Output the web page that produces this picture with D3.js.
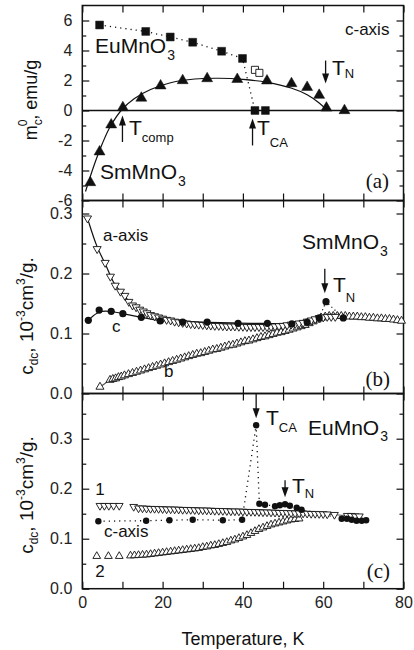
<!DOCTYPE html>
<html>
<head>
<meta charset="utf-8">
<script src="https://cdn.jsdelivr.net/npm/d3@7"></script>
<style>
  body { margin: 0; background: #fff; }
  svg { display: block; font-family: "Liberation Sans", Arial, sans-serif; }
</style>
</head>
<body>
<script>
// ---- panel (a): remanent moment along c, [T (K), m (emu/g)]
const euSquares = [[4.3, 5.7], [15.8, 5.27], [21.9, 4.9], [27.5, 4.55], [34.7, 3.95], [39.9, 3.47], [43.0, 0], [45.6, 0]];
const euOpen = [[43.0, 2.71], [44.1, 2.51]];
const smTriangles = [[2.0, -4.8], [4.3, -2.75], [7.2, -0.95], [10.1, 0.2], [14.7, 0.83], [19.5, 1.65], [25.0, 2.0],
  [31.1, 2.13], [38.6, 2.08], [46.0, 1.98], [52.1, 1.8], [56.0, 1.55], [59.0, 1.02], [60.8, 0.17], [65.3, 0.0]];
const smFit = [[0.8, -5.4], [3, -3.6], [5, -2.2], [7, -1.05], [10, 0.1], [13, 0.8], [17, 1.4], [22, 1.85], [28, 2.1],
  [34, 2.15], [40, 2.07], [46, 1.88], [52, 1.5], [56, 1.05], [59, 0.5], [61, 0.0]];

// ---- panel (b): SmMnO3 susceptibility, [T (K), chi (1e-3 cm3/g)]
const smA = [[1.3, .292], [3.7, .241], [5.7, .218], [7.0, .195], [8.2, .180], [9.5, .170], [10.6, .163], [11.6, .153],
  [12.5, .147], [13.4, .144], [14.3, .140], [15.2, .137], [16.1, .134], [17.0, .131], [18.0, .129], [19.0, .127],
  [20.0, .125], [21.0, .123], [22.0, .122], [23.0, .120], [24.0, .119], [25.0, .118], [26.0, .117], [27.0, .116],
  [28.0, .1155], [29, .115], [30, .1145], [31, .114], [32, .1135], [33, .113], [34, .113], [35, .1125], [36, .112],
  [37, .112], [38, .112], [39, .1115], [40, .1115], [41, .111], [42, .111], [43, .111], [44, .111], [45, .111],
  [46, .111], [47, .1115], [48, .112], [49, .1125], [50, .113], [51, .114], [52, .115], [53, .116], [54, .117],
  [55, .118], [56, .120], [57, .122], [58, .124], [59, .126], [60, .127], [61, .128], [62, .128], [63, .128]];
const smB = [[4.4, .011], [6.9, .0225], [7.6, .024], [8.3, .025], [9.0, .027], [9.7, .028], [10.5, .030], [11.5, .032],
  [12.5, .034], [13.5, .036], [14.5, .038], [15.5, .040], [16.5, .042], [17.5, .044], [18.5, .046], [19.5, .048],
  [20.5, .050], [21.5, .052], [22.5, .054], [23.5, .056], [24.5, .058], [25.5, .060], [26.5, .062], [27.5, .064],
  [28.5, .066], [29.5, .067], [30.5, .069], [31.5, .071], [32.5, .073], [33.5, .074], [34.5, .076], [35.5, .078],
  [36.5, .080], [37.5, .081], [38.5, .083], [39.5, .085], [40.5, .087], [41.5, .088], [42.5, .090], [43.5, .092],
  [44.5, .094], [45.5, .095], [46.5, .097], [47.5, .099], [48.5, .101], [49.5, .102], [50.5, .104], [51.5, .106],
  [52.5, .108], [53.5, .110], [54.5, .112], [55.5, .114], [56.5, .117], [57.5, .120], [58.5, .123], [59.5, .126],
  [60.5, .128], [61.5, .129], [62.5, .129], [63.5, .129], [64.5, .129], [65.5, .129], [66.5, .128], [67.5, .128],
  [68.5, .128], [69.5, .127], [70.5, .127], [71.5, .126], [72.5, .126], [73.5, .125], [74.5, .125], [75.5, .124],
  [76.5, .124], [77.5, .123], [78.5, .122], [79.5, .121]];
const smC = [[1.5, .122], [4.2, .139], [7.2, .137], [10.1, .133], [14.7, .127], [19.4, .121], [25.0, .119], [31.1, .119],
  [38.8, .117], [46.1, .117], [52.2, .116], [56.0, .119], [59.0, .126], [60.7, .153], [65.0, .126]];

// ---- panel (c): EuMnO3 susceptibility
const eu1 = [[4.4, .166], [5.5, .166], [6.6, .166], [7.8, .166], [9.2, .166], [12.8, .164],
  [14, .161], [15, .161], [16, .1605], [17, .160], [18, .160], [19, .1598], [20, .1595], [21, .159], [22, .159],
  [23, .1588], [24, .1585], [25, .158], [26, .158], [27, .1578], [28, .1575], [29, .157], [30, .157], [31, .1568],
  [32, .1565], [33, .156], [34, .156], [35, .1558], [36, .1555], [37, .155], [38, .155], [39, .1548], [40, .1545],
  [41, .154], [42, .154], [43, .1538], [44, .1535], [45, .153], [46, .153], [47, .1527], [48, .1524], [49, .152],
  [50, .152], [51, .1517], [52, .1514], [53, .151], [54, .151], [55, .1507], [56, .1504], [57, .150], [58, .150],
  [59, .1497], [60, .1494], [61, .149], [62.8, .148], [66, .146], [67, .146], [68, .145], [69, .145]];
const eu2 = [[3.6, .065], [6.5, .065], [9.2, .065], [12, .066], [13, .0665], [14, .067], [15, .0675], [16, .068],
  [17, .069], [18, .070], [19, .071], [20, .072], [21, .073], [22, .074], [23, .075], [24, .076], [25, .077],
  [26, .078], [27, .079], [28, .080], [29, .081], [30, .083], [31, .084], [32, .086], [33, .087], [34, .089],
  [35, .091], [36, .093], [37, .096], [38, .098], [39, .101], [40, .104], [41, .107], [42, .111], [43, .115],
  [44, .119], [45, .122], [46, .125], [47, .128], [48, .130], [49, .132], [50, .134], [51, .136], [52, .138],
  [53, .139], [54, .140]];
const euC = [[4.0, .135], [15.9, .136], [21.7, .137], [27.5, .138], [35.0, .137], [39.8, .138], [43.3, .327],
  [44.1, .170], [45.5, .168], [48.0, .165], [49.2, .167], [50.5, .169], [51.7, .166], [53.4, .162], [54.6, .158],
  [64.6, .140], [65.9, .140], [67.1, .138], [68.3, .136], [69.6, .136], [70.7, .137]];

// ---- ticks
const xMajor = [0, 20, 40, 60, 80];
const xMinor = [10, 30, 50, 70];
const aMajor = [-6, -4, -2, 0, 2, 4, 6];
const aMinor = [-5, -3, -1, 1, 3, 5];
const bMajor = [0, 0.1, 0.2, 0.3];
const bMinor = [0.05, 0.15, 0.25];
const cMajor = [0, 0.1, 0.2, 0.3];
const cMinor = [0.05, 0.15, 0.25, 0.35];

const width = 414, height = 650;
const svg = d3.select('body').append('svg').attr('width', width).attr('height', height);

const x = d3.scaleLinear().domain([0, 80]).range([82.3, 403.5]);
const yA = d3.scaleLinear().domain([-6, 7]).range([200.5, 5.5]);
const yB = d3.scaleLinear().domain([0, 0.3217]).range([393.5, 200.5]);
const yC = d3.scaleLinear().domain([0, 0.3904]).range([588.7, 393.5]);

const ink = '#111';
const sans = '"Liberation Sans", Arial, sans-serif';
const serif = '"Liberation Serif", "Times New Roman", serif';

function drawFrame(y, major, minor, fmt, xLabels) {
    const g = svg.append('g');
    const [y0, y1] = y.range();
    const [x0, x1] = x.range();
    const ax = (axis, tx, ty) => {
        const a = g.append('g').attr('transform', `translate(${tx},${ty})`).call(axis);
        a.select('.domain').remove();
        a.selectAll('line').attr('stroke', ink).attr('stroke-width', 1.2);
        a.selectAll('text').attr('fill', '#222').style('font-size', '16px').style('font-family', sans);
        return a;
    };
    ax(d3.axisLeft(y).tickValues(major).tickSize(-7).tickPadding(10).tickFormat(fmt), x0, 0);
    ax(d3.axisLeft(y).tickValues(minor).tickSize(-4).tickFormat(''), x0, 0);
    ax(d3.axisRight(y).tickValues(major).tickSize(-7).tickFormat(''), x1, 0);
    ax(d3.axisRight(y).tickValues(minor).tickSize(-4).tickFormat(''), x1, 0);
    ax(d3.axisTop(x).tickValues(xMajor.concat(xMinor)).tickSize(-7).tickFormat(''), 0, y1);
    ax(d3.axisBottom(x).tickValues(xMinor).tickSize(-7).tickFormat(''), 0, y0);
    ax(d3.axisBottom(x).tickValues(xMajor).tickSize(-7).tickPadding(8)
        .tickFormat(xLabels ? d => d : ''), 0, y0);
    g.append('rect')
        .attr('x', x0).attr('y', y1)
        .attr('width', x1 - x0).attr('height', y0 - y1)
        .attr('fill', 'none').attr('stroke', ink).attr('stroke-width', 1.5);
}

function linePath(y, data, opts) {
    const gen = d3.line().x(d => x(d[0])).y(d => y(d[1])).curve(opts.curve || d3.curveLinear);
    svg.append('path').datum(data)
        .attr('d', gen)
        .attr('fill', 'none')
        .attr('stroke', opts.stroke || ink)
        .attr('stroke-width', opts.width || 1)
        .attr('stroke-dasharray', opts.dash || null);
}

function symbols(y, data, type, size, filled, rotate) {
    svg.append('g').selectAll('path').data(data).enter().append('path')
        .attr('transform', d => `translate(${x(d[0])},${y(d[1])})` + (rotate ? ' rotate(180)' : ''))
        .attr('d', d3.symbol().type(type).size(size))
        .attr('fill', filled ? ink : '#fff')
        .attr('stroke', ink)
        .attr('stroke-width', filled ? 0.5 : 0.9);
}

function circles(y, data, r) {
    svg.append('g').selectAll('circle').data(data).enter().append('circle')
        .attr('cx', d => x(d[0])).attr('cy', d => y(d[1])).attr('r', r)
        .attr('fill', ink);
}

function arrow(y, t, from, to) {
    const px = x(t), p0 = y(from), p1 = y(to);
    const dir = p1 > p0 ? 1 : -1;
    svg.append('line').attr('x1', px).attr('x2', px).attr('y1', p0).attr('y2', p1 - dir * 8)
        .attr('stroke', ink).attr('stroke-width', 1.3);
    svg.append('path')
        .attr('d', `M${px},${p1} L${px - 3.5},${p1 - dir * 10} L${px + 3.5},${p1 - dir * 10} Z`)
        .attr('fill', ink);
}

function label(px, py, parts, opts = {}) {
    const t = svg.append('text').attr('x', px).attr('y', py)
        .attr('fill', ink)
        .attr('text-anchor', opts.anchor || 'start')
        .style('font-family', opts.family || sans)
        .style('font-size', (opts.size || 17) + 'px');
    parts.forEach(p => {
        const s = t.append('tspan').text(p.t);
        if (p.size) s.style('font-size', p.size + 'px');
        if (p.dy) s.attr('dy', p.dy);
        if (p.dx) s.attr('dx', p.dx);
    });
    return t;
}

// ---------------- panel (a)
drawFrame(yA, aMajor, aMinor, d => String(d), false);
svg.append('line').attr('x1', x(0)).attr('x2', x(80)).attr('y1', yA(0)).attr('y2', yA(0))
    .attr('stroke', ink).attr('stroke-width', 1.5);
linePath(yA, smFit, { curve: d3.curveCatmullRom, width: 1.2 });
linePath(yA, euSquares, { dash: '1.2,4', width: 1.3 });
symbols(yA, euSquares, d3.symbolSquare, 62, true);
symbols(yA, euOpen, d3.symbolSquare, 50, false);
symbols(yA, smTriangles, d3.symbolTriangle, 52, true);

arrow(yA, 10, -2.1, -0.33);
arrow(yA, 42.4, -2.33, -0.53);
arrow(yA, 60.6, 3.33, 1.8);

label(345, 35, [{ t: 'c-axis' }]);
label(95, 53, [{ t: 'EuMnO' }, { t: '3', size: 14, dy: 7, dx: 1 }], { size: 21 });
label(100, 179, [{ t: 'SmMnO' }, { t: '3', size: 14, dy: 7, dx: 1 }], { size: 21 });
label(389, 188, [{ t: '(a)' }], { size: 21, anchor: 'end', family: serif });
label(129, 135, [{ t: 'T' }, { t: 'comp', size: 13, dy: 7 }], { size: 21 });
label(257, 135, [{ t: 'T' }, { t: 'CA', size: 13, dy: 12 }], { size: 21 });
label(332, 75, [{ t: 'T' }, { t: 'N', size: 13, dy: 3 }], { size: 21 });

// ---------------- panel (b)
drawFrame(yB, bMajor, bMinor, d3.format('.1f'), false);
linePath(yB, smA, { curve: d3.curveBasis, width: 1.2 });
linePath(yB, smB, { curve: d3.curveBasis, width: 1.2, stroke: '#555' });
linePath(yB, smC.slice(0, 13), { curve: d3.curveBasis, width: 1.2 });
linePath(yB, smC.slice(11), { dash: '1.2,3', width: 1.2 });
symbols(yB, smB, d3.symbolTriangle, 28, false);
symbols(yB, smA, d3.symbolTriangle, 28, false, true);
circles(yB, smC, 3.6);

arrow(yB, 60.4, 0.208, 0.167);

label(103, 241, [{ t: 'a-axis' }]);
label(112, 332, [{ t: 'c' }]);
label(164, 377, [{ t: 'b' }]);
label(302, 249, [{ t: 'SmMnO' }, { t: '3', size: 14, dy: 7, dx: 1 }], { size: 21 });
label(390, 386, [{ t: '(b)' }], { size: 21, anchor: 'end', family: serif });
label(333, 292, [{ t: 'T' }, { t: 'N', size: 13, dy: 10 }], { size: 21 });

// ---------------- panel (c)
drawFrame(yC, cMajor, cMinor, d3.format('.1f'), true);
linePath(yC, eu1.slice(6, 56), { curve: d3.curveBasis, width: 1, stroke: '#555' });
linePath(yC, eu2.slice(3), { curve: d3.curveBasis, width: 1, stroke: '#555' });
linePath(yC, euC, { dash: '1.2,4', width: 1.3 });
symbols(yC, eu2, d3.symbolTriangle, 26, false);
symbols(yC, eu1, d3.symbolTriangle, 26, false, true);
circles(yC, euC, 3.2);

arrow(yC, 43.3, 0.3904, 0.341);
arrow(yC, 50.5, 0.217, 0.183);

label(266, 425, [{ t: 'T' }, { t: 'CA', size: 13, dy: 7 }], { size: 21 });
label(308, 435, [{ t: 'EuMnO' }, { t: '3', size: 14, dy: 6, dx: 1 }], { size: 21 });
label(292, 493, [{ t: 'T' }, { t: 'N', size: 13, dy: 5 }], { size: 21 });
label(100, 495, [{ t: '1' }], { anchor: 'middle' });
label(104, 537, [{ t: 'c-axis' }]);
label(100, 577, [{ t: '2' }], { anchor: 'middle' });
label(390, 578, [{ t: '(c)' }], { size: 21, anchor: 'end', family: serif });

// ---------------- axis titles
label(243, 645, [{ t: 'Temperature, K' }], { size: 18, anchor: 'middle' });

svg.append('g').attr('transform', 'translate(37,100) rotate(-90)')
    .call(g => {
        const t = g.append('text').attr('text-anchor', 'middle').attr('fill', ink)
            .style('font-size', '18px').style('font-family', sans);
        t.append('tspan').text('m');
        t.append('tspan').text('c').style('font-size', '12px').attr('dy', 5);
        t.append('tspan').text('0').style('font-size', '12px').attr('dx', -7).attr('dy', -15);
        t.append('tspan').text(', emu/g').attr('dy', 10);
    });

function chiTitle(cy) {
    svg.append('g').attr('transform', `translate(33,${cy}) rotate(-90)`)
        .call(g => {
            const t = g.append('text').attr('text-anchor', 'middle').attr('fill', ink)
                .style('font-size', '19px').style('font-family', sans);
            t.append('tspan').text('c');
            t.append('tspan').text('dc').style('font-size', '12px').attr('dy', 5);
            t.append('tspan').text(', 10').attr('dy', -5);
            t.append('tspan').text('-3').style('font-size', '12px').attr('dy', -8);
            t.append('tspan').text('cm').attr('dy', 8);
            t.append('tspan').text('3').style('font-size', '12px').attr('dy', -8);
            t.append('tspan').text('/g.').attr('dy', 8);
        });
}
chiTitle(316);
chiTitle(495);
</script>
</body>
</html>
